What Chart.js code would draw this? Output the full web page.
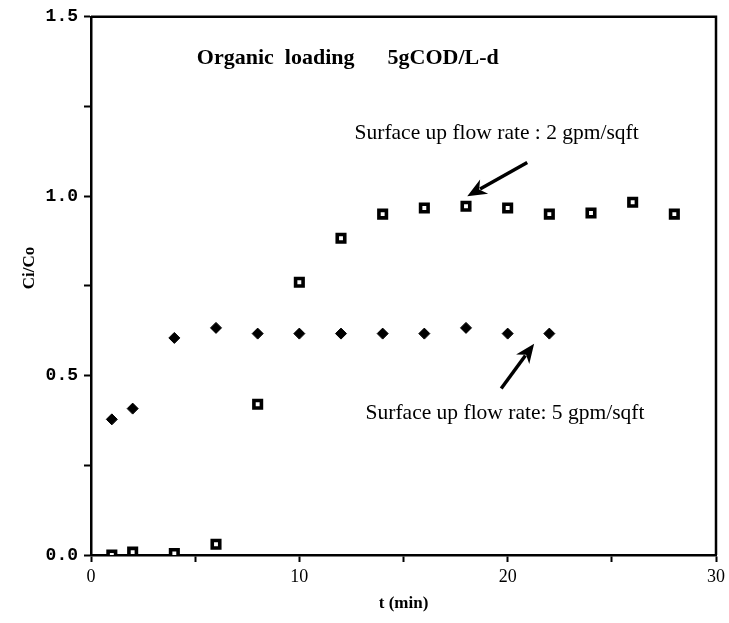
<!DOCTYPE html>
<html>
<head>
<meta charset="utf-8">
<script src="https://cdn.jsdelivr.net/npm/chart.js@4/dist/chart.umd.min.js"></script>
<style>
  body { margin: 0; background: #fff; }
  #wrap { width: 729px; height: 623px; }
</style>
</head>
<body>
<div id="wrap"><canvas id="chart" width="729" height="623"></canvas></div>
<script>
// 2 gpm/sqft (open squares)
const timeSlow = [1, 2, 4, 6, 8, 10, 12, 14, 16, 18, 20, 22, 24, 26, 28];
const ratioSlow = [0.0, 0.008, 0.004, 0.03, 0.42, 0.76, 0.883, 0.95, 0.967, 0.972, 0.967, 0.95, 0.953, 0.983, 0.95];

// 5 gpm/sqft (filled diamonds)
const timeFast = [1, 2, 4, 6, 8, 10, 12, 14, 16, 18, 20, 22];
const ratioFast = [0.378, 0.408, 0.605, 0.633, 0.617, 0.617, 0.617, 0.617, 0.617, 0.633, 0.617, 0.617];

const xTicks = [0, 10, 20, 30];
const yTicks = [0.0, 0.5, 1.0, 1.5];

const labelTexts = ['Organic  loading      5gCOD/L-d', 'Surface up flow rate : 2 gpm/sqft', 'Surface up flow rate: 5 gpm/sqft'];
const labelX = [5.08, 12.65, 13.18];
const labelY = [1.383, 1.175, 0.394];
const labelBold = [true, false, false];

// arrows: tail -> tip, in data units
const arrowFrom = [[20.94, 1.094], [19.69, 0.464]];
const arrowTo = [[18.06, 1.0], [21.27, 0.589]];

function toPoints(xs, ys) {
  return xs.map(function(x, i) { return { x: x, y: ys[i] }; });
}

const extras = {
  id: 'extras',
  afterDraw: function(chart) {
    const ctx = chart.ctx;
    const area = chart.chartArea;
    const xs = chart.scales.x;
    const ys = chart.scales.y;
    ctx.save();

    // top and right frame
    ctx.strokeStyle = '#000';
    ctx.lineWidth = 2.5;
    ctx.beginPath();
    ctx.moveTo(area.left, area.top);
    ctx.lineTo(area.right, area.top);
    ctx.lineTo(area.right, area.bottom);
    ctx.stroke();

    // notes
    ctx.fillStyle = '#000';
    ctx.textBaseline = 'middle';
    ctx.textAlign = 'left';
    for (let i = 0; i < labelTexts.length; i++) {
      ctx.font = (labelBold[i] ? 'bold 22px' : '21.5px') + ' "Liberation Serif", serif';
      ctx.fillText(labelTexts[i], xs.getPixelForValue(labelX[i]), ys.getPixelForValue(labelY[i]));
    }

    // arrows
    for (let i = 0; i < arrowFrom.length; i++) {
      const x1 = xs.getPixelForValue(arrowFrom[i][0]);
      const y1 = ys.getPixelForValue(arrowFrom[i][1]);
      const x2 = xs.getPixelForValue(arrowTo[i][0]);
      const y2 = ys.getPixelForValue(arrowTo[i][1]);
      const ang = Math.atan2(y2 - y1, x2 - x1);
      const head = 21;
      ctx.lineWidth = 3.5;
      ctx.beginPath();
      ctx.moveTo(x1, y1);
      ctx.lineTo(x2 - Math.cos(ang) * head * 0.7, y2 - Math.sin(ang) * head * 0.7);
      ctx.stroke();
      ctx.beginPath();
      ctx.moveTo(x2, y2);
      ctx.lineTo(x2 - Math.cos(ang - 0.4) * head, y2 - Math.sin(ang - 0.4) * head);
      ctx.lineTo(x2 - Math.cos(ang) * head * 0.65, y2 - Math.sin(ang) * head * 0.65);
      ctx.lineTo(x2 - Math.cos(ang + 0.4) * head, y2 - Math.sin(ang + 0.4) * head);
      ctx.closePath();
      ctx.fill();
    }

    // y axis title
    ctx.translate(30, ys.getPixelForValue(0.8));
    ctx.rotate(-Math.PI / 2);
    ctx.textAlign = 'center';
    ctx.font = 'bold 17px "Liberation Serif", serif';
    ctx.fillText('Ci/Co', 0, 0);
    ctx.restore();
  }
};

const chart = new Chart(document.getElementById('chart'), {
  type: 'scatter',
  data: {
    datasets: [{
      label: '2 gpm/sqft',
      data: toPoints(timeSlow, ratioSlow),
      pointStyle: 'rect',
      pointRadius: 5.3,
      pointBackgroundColor: '#fff',
      pointBorderColor: '#000',
      pointBorderWidth: 3.6
    }, {
      label: '5 gpm/sqft',
      data: toPoints(timeFast, ratioFast),
      pointStyle: 'rectRot',
      pointRadius: 5.5,
      pointBackgroundColor: '#000',
      pointBorderColor: '#000',
      pointBorderWidth: 1
    }]
  },
  options: {
    responsive: false,
    animation: false,
    layout: { padding: { left: 0, top: 14, right: 12, bottom: 0 } },
    plugins: {
      legend: { display: false },
      tooltip: { enabled: false }
    },
    scales: {
      x: {
        type: 'linear',
        min: 0,
        max: 30,
        afterFit: function(s) { s.height = 68; },
        border: { display: true, color: '#000', width: 2.5 },
        grid: { drawOnChartArea: false, drawTicks: true, tickLength: 7, tickColor: '#000', tickWidth: 2 },
        ticks: {
          stepSize: 5,
          padding: 4,
          color: '#000',
          font: { family: '"Liberation Serif", serif', size: 18 },
          callback: function(v) { return xTicks.indexOf(v) >= 0 ? String(v) : ''; }
        },
        title: {
          display: true,
          text: 't (min)',
          color: '#000',
          font: { family: '"Liberation Serif", serif', size: 17, weight: 'bold' },
          padding: { top: 0, bottom: 9 }
        }
      },
      y: {
        type: 'linear',
        min: 0,
        max: 1.5,
        afterFit: function(s) { s.width = 91; },
        border: { display: true, color: '#000', width: 2.5 },
        grid: { drawOnChartArea: false, drawTicks: true, tickLength: 7, tickColor: '#000', tickWidth: 2 },
        ticks: {
          stepSize: 0.25,
          padding: 6,
          color: '#000',
          font: { family: '"Liberation Mono", monospace', size: 18, weight: 'bold' },
          callback: function(v) { return yTicks.indexOf(v) >= 0 ? v.toFixed(1) : ''; }
        }
      }
    }
  },
  plugins: [extras]
});
</script>
</body>
</html>
